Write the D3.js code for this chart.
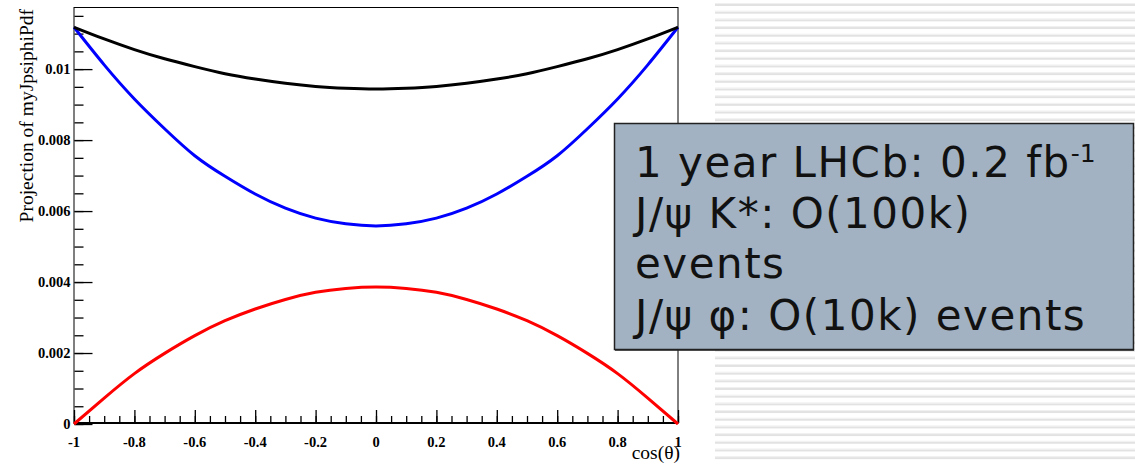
<!DOCTYPE html>
<html>
<head>
<meta charset="utf-8">
<script src="https://cdn.jsdelivr.net/npm/d3@7"></script>
<style>
  html, body { margin: 0; padding: 0; background: #fff; }
  svg { display: block; }
</style>
</head>
<body>
<svg id="chart" width="1135" height="464"></svg>
<script>
// cos(theta) sample points
const cosTheta = [-1, -0.9, -0.8, -0.7, -0.6, -0.5, -0.4, -0.3, -0.2, -0.1, 0,
                  0.1, 0.2, 0.3, 0.4, 0.5, 0.6, 0.7, 0.8, 0.9, 1];
// Projection of the PDF, total (black)
const totalPdf = [0.01118, 0.01085, 0.01055, 0.01029, 0.01007, 0.00987, 0.00972, 0.00960, 0.00951, 0.00946, 0.00944,
                  0.00946, 0.00951, 0.00960, 0.00972, 0.00987, 0.01007, 0.01029, 0.01055, 0.01085, 0.01118];
// Even component (blue)
const evenPdf = [0.01118, 0.01012, 0.00916, 0.00832, 0.00756, 0.00698, 0.00648, 0.00608, 0.00580, 0.00564, 0.00558,
                 0.00564, 0.00580, 0.00608, 0.00648, 0.00698, 0.00756, 0.00832, 0.00916, 0.01012, 0.01118];
// Odd component (red)
const oddPdf = [0, 0.00073, 0.00142, 0.00199, 0.00249, 0.00291, 0.00324, 0.00351, 0.00371, 0.00382, 0.00386,
                0.00382, 0.00371, 0.00351, 0.00324, 0.00291, 0.00249, 0.00199, 0.00142, 0.00073, 0];

const xMajorTicks = [-1, -0.8, -0.6, -0.4, -0.2, 0, 0.2, 0.4, 0.6, 0.8, 1];
const xTickLabels = ["-1", "-0.8", "-0.6", "-0.4", "-0.2", "0", "0.2", "0.4", "0.6", "0.8", "1"];
const yMajorTicks = [0, 0.002, 0.004, 0.006, 0.008, 0.01];
const yTickLabels = ["0", "0.002", "0.004", "0.006", "0.008", "0.01"];

const infoLines = ["1 year LHCb: 0.2 fb", "J/ψ K*: O(100k)", "events", "J/ψ φ: O(10k) events"];
const infoSuperscript = "-1";

const svg = d3.select("#chart");

// striped slide background on the right
const stripeG = svg.append("g");
stripeG.selectAll("rect")
  .data(d3.range(60))
  .join("rect")
  .attr("x", 715)
  .attr("y", i => 4 + i * 7.68)
  .attr("width", 420)
  .attr("height", 2)
  .attr("fill", "#e2e2e2");
stripeG.selectAll("line")
  .data(d3.range(60))
  .join("line")
  .attr("x1", 715).attr("x2", 1135)
  .attr("y1", i => 3.5 + i * 7.68).attr("y2", i => 3.5 + i * 7.68)
  .attr("stroke", "#f0f0f0").attr("stroke-width", 1);

const plotLeft = 74, plotRight = 678, plotTop = 7, plotBottom = 424;
const x = d3.scaleLinear().domain([-1, 1]).range([plotLeft, plotRight]);
const y = d3.scaleLinear().domain([0, 0.01175]).range([plotBottom, plotTop]);

// frame
svg.append("rect")
  .attr("x", plotLeft).attr("y", plotTop + 0.5)
  .attr("width", plotRight - plotLeft).attr("height", plotBottom - plotTop - 1)
  .attr("fill", "none").attr("stroke", "#000").attr("stroke-width", 1);

const tickFont = "'Liberation Serif', 'Times New Roman', serif";

// y axis: major ticks with labels, minor ticks without
const yMajor = d3.axisLeft(y).tickValues(yMajorTicks)
  .tickSize(-18).tickPadding(4)
  .tickFormat((d, i) => yTickLabels[i]);
const yAxisG = svg.append("g").attr("transform", `translate(${plotLeft + 0.5},0)`).call(yMajor);
const yMinor = d3.axisLeft(y).tickValues(d3.range(0, 0.0117, 0.0005))
  .tickSize(-9).tickFormat("");
svg.append("g").attr("transform", `translate(${plotLeft + 0.5},0)`).call(yMinor);

// x axis
const xMajor = d3.axisTop(x).tickValues(xMajorTicks)
  .tickSize(13).tickFormat("");
svg.append("g").attr("transform", `translate(0,${plotBottom - 1})`).call(xMajor);
const xMinor = d3.axisTop(x).tickValues(d3.range(-1, 1.001, 0.05))
  .tickSize(7).tickFormat("");
svg.append("g").attr("transform", `translate(0,${plotBottom - 1})`).call(xMinor);

svg.selectAll(".domain").remove();
svg.selectAll(".tick line").attr("stroke", "#000").attr("stroke-width", 1.3);
yAxisG.selectAll("text")
  .attr("font-family", tickFont).attr("font-size", 14.5).attr("font-weight", "bold")
  .attr("fill", "#000");

// x axis baseline (drawn thicker)
svg.append("line")
  .attr("x1", plotLeft).attr("x2", plotRight)
  .attr("y1", plotBottom - 1).attr("y2", plotBottom - 1)
  .attr("stroke", "#000").attr("stroke-width", 2.2);

// x tick labels
svg.append("g").selectAll("text")
  .data(xMajorTicks)
  .join("text")
  .attr("x", d => x(d))
  .attr("y", 447)
  .attr("text-anchor", "middle")
  .attr("font-family", tickFont).attr("font-size", 14.5).attr("font-weight", "bold")
  .text((d, i) => xTickLabels[i]);

// axis titles
svg.append("text")
  .attr("transform", "translate(33,9) rotate(-90)")
  .attr("text-anchor", "end")
  .attr("font-family", tickFont).attr("font-size", 19.5)
  .text("Projection of myJpsiphiPdf");

svg.append("text")
  .attr("x", 680).attr("y", 459)
  .attr("text-anchor", "end")
  .attr("font-family", tickFont).attr("font-size", 19.5)
  .text("cos(θ)");

// curves
const line = d3.line()
  .x(d => x(d[0]))
  .y(d => y(d[1]))
  .curve(d3.curveNatural);

const series = [
  { values: oddPdf, color: "#ff0000" },
  { values: evenPdf, color: "#0000ff" },
  { values: totalPdf, color: "#000000" }
];
svg.append("g").selectAll("path")
  .data(series)
  .join("path")
  .attr("d", s => line(cosTheta.map((c, i) => [c, s.values[i]])))
  .attr("fill", "none")
  .attr("stroke", s => s.color)
  .attr("stroke-width", 3);

// info box
const box = svg.append("g");
box.append("rect")
  .attr("x", 614.5).attr("y", 123.5)
  .attr("width", 519).attr("height", 226)
  .attr("fill", "#a2b2c2")
  .attr("stroke", "#222").attr("stroke-width", 1.5);
box.append("line")
  .attr("x1", 615).attr("x2", 1134).attr("y1", 350).attr("y2", 350)
  .attr("stroke", "#222").attr("stroke-width", 1.5);

const boxFont = "'DejaVu Sans', Verdana, sans-serif";
const baselines = [177, 228, 278, 330];
const infoText = box.selectAll("text.info")
  .data(infoLines)
  .join("text")
  .attr("class", "info")
  .attr("x", 635)
  .attr("y", (d, i) => baselines[i])
  .attr("font-family", boxFont).attr("font-size", 42)
  .attr("letter-spacing", 1.5)
  .attr("fill", "#111");
infoText.append("tspan").text(d => d);
infoText.filter((d, i) => i === 0)
  .append("tspan")
  .attr("dy", -15)
  .attr("font-size", 25)
  .attr("letter-spacing", 0)
  .text(infoSuperscript);
</script>
</body>
</html>
